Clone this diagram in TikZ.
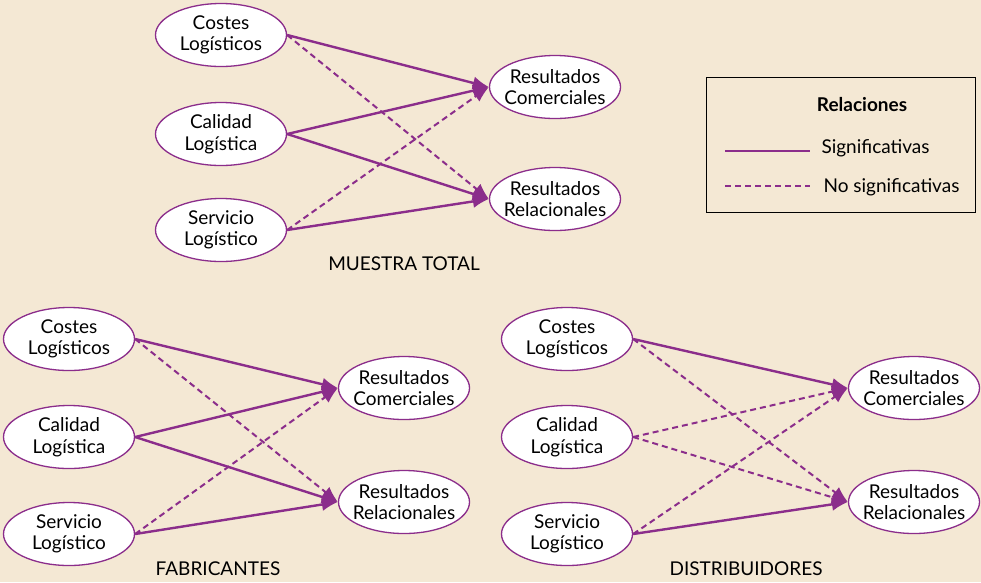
\documentclass[tikz,border=0pt]{standalone}
\usepackage{fontspec}
\setmainfont{Lato}
\usetikzlibrary{shapes.geometric,arrows.meta}
\definecolor{fondo}{RGB}{244,232,212}
\definecolor{morado}{RGB}{139,45,139}
\newcommand{\ew}{131}
\newcommand{\eh}{63}
\newcommand{\textsizeDiag}{\fontsize{19}{21.5}\selectfont}

\begin{document}
\begin{tikzpicture}[x=1pt,y=-1pt,
  var/.style={draw=morado,line width=1.3pt,fill=white,ellipse,inner xsep=-8pt,inner ysep=0pt,
    minimum width=\ew pt,minimum height=\eh pt,align=center,font=\textsizeDiag},
  sig/.style={draw=morado,line width=2.4pt,-{Latex[length=16pt,width=13pt]}},
  nosig/.style={draw=morado,line width=2pt,dash pattern=on 6pt off 4pt,
    -{Latex[length=16pt,width=13pt]}},
  titulo/.style={font=\textsizeDiag}]

% Background
\fill[fondo] (0,0) rectangle (981,582);
\useasboundingbox (0,0) rectangle (981,582);

% Muestra total
\node (TC) [var] at (221,35) {Costes\\Logísticos};
\node (TQ) [var] at (221,134) {Calidad\\Logística};
\node (TS) [var] at (221,230) {Servicio\\Logístico};
\node (TCom) [var] at (555,87) {Resultados\\Comerciales};
\node (TRel) [var] at (555,199) {Resultados\\Relacionales};
\node (TT) [titulo] at (404,264) {MUESTRA TOTAL};

\draw[sig] (TC.east) -- (TCom.west);
\draw[nosig] (TC.east) -- (TRel.west);
\draw[sig] (TQ.east) -- (TCom.west);
\draw[sig] (TQ.east) -- (TRel.west);
\draw[nosig] (TS.east) -- (TCom.west);
\draw[sig] (TS.east) -- (TRel.west);

% Fabricantes
\node (FC) [var] at (69,339) {Costes\\Logísticos};
\node (FQ) [var] at (69,437) {Calidad\\Logística};
\node (FS) [var] at (69,534) {Servicio\\Logístico};
\node (FCom) [var] at (404,388) {Resultados\\Comerciales};
\node (FRel) [var] at (404,502) {Resultados\\Relacionales};
\node (FT) [titulo] at (218,569) {FABRICANTES};

\draw[sig] (FC.east) -- (FCom.west);
\draw[nosig] (FC.east) -- (FRel.west);
\draw[sig] (FQ.east) -- (FCom.west);
\draw[sig] (FQ.east) -- (FRel.west);
\draw[nosig] (FS.east) -- (FCom.west);
\draw[sig] (FS.east) -- (FRel.west);

% Distribuidores
\node (DC) [var] at (567,339) {Costes\\Logísticos};
\node (DQ) [var] at (567,437) {Calidad\\Logística};
\node (DS) [var] at (567,534) {Servicio\\Logístico};
\node (DCom) [var] at (914,388) {Resultados\\Comerciales};
\node (DRel) [var] at (914,502) {Resultados\\Relacionales};
\node (DT) [titulo] at (746,569) {DISTRIBUIDORES};

\draw[sig] (DC.east) -- (DCom.west);
\draw[nosig] (DC.east) -- (DRel.west);
\draw[nosig] (DQ.east) -- (DCom.west);
\draw[nosig] (DQ.east) -- (DRel.west);
\draw[nosig] (DS.east) -- (DCom.west);
\draw[sig] (DS.east) -- (DRel.west);

% Leyenda
\node (Ley) [draw=black,line width=1pt,minimum width=269pt,minimum height=135pt,inner sep=0pt] at (840.5,144.5) {};
\node (LeyT) [font=\textsizeDiag\bfseries] at (862,105) {Relaciones};
\coordinate (S1) at (725,151);
\coordinate (S2) at (810,151);
\coordinate (N1) at (725,186);
\coordinate (N2) at (810,186);
\draw[draw=morado,line width=1.6pt] (S1) -- (S2);
\draw[draw=morado,line width=1.6pt,dash pattern=on 6pt off 4pt] (N1) -- (N2);
\node (LeyS) [titulo,anchor=west] at (818,148) {Significativas};
\node (LeyN) [titulo,anchor=west] at (820,187) {No significativas};

\end{tikzpicture}
\end{document}
